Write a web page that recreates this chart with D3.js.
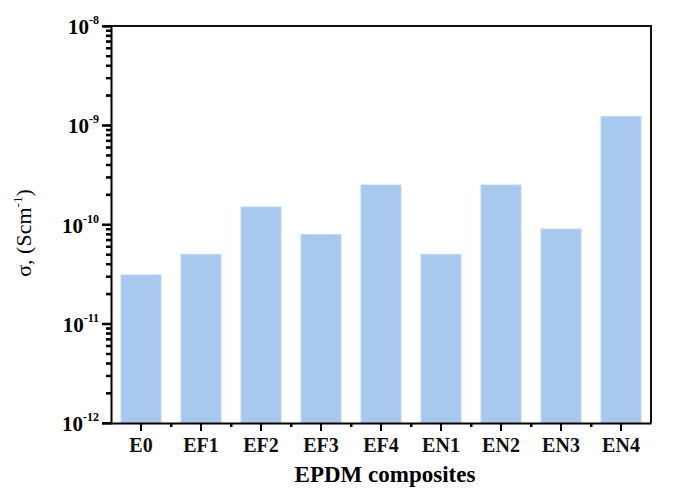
<!DOCTYPE html>
<html>
<head>
<meta charset="utf-8">
<script src="https://cdn.jsdelivr.net/npm/d3@7"></script>
<style>
  body { margin: 0; background: #fff; }
  svg { display: block; font-family: 'Liberation Serif', 'Times New Roman', serif; }
</style>
</head>
<body>
<div id="chart"></div>
<script>
const width = 673;
const height = 494;
const margin = { top: 26, right: 22, bottom: 71, left: 111 };

// data
const categories = ['E0', 'EF1', 'EF2', 'EF3', 'EF4', 'EN1', 'EN2', 'EN3', 'EN4'];
const conductivity = [3.1e-11, 5.0e-11, 1.5e-10, 7.9e-11, 2.5e-10, 5.0e-11, 2.5e-10, 9.0e-11, 1.22e-9];
const yExponents = [-12, -11, -10, -9, -8];

const svg = d3
  .select('#chart')
  .append('svg')
  .attr('width', width)
  .attr('height', height);

const x = d3
  .scaleBand()
  .domain(categories)
  .range([margin.left, width - margin.right])
  .paddingInner(1 / 3)
  .paddingOuter(1 / 6);

const y = d3
  .scaleLog()
  .domain([1e-12, 1e-8])
  .range([height - margin.bottom, margin.top]);

// bars
svg
  .selectAll('.bar')
  .data(categories)
  .enter()
  .append('rect')
  .classed('bar', true)
  .attr('x', (d) => x(d))
  .attr('y', (d, i) => y(conductivity[i]))
  .attr('width', x.bandwidth())
  .attr('height', (d, i) => y(1e-12) - y(conductivity[i]))
  .attr('fill', '#a7c9ee')
  .attr('stroke', '#b9d5f3')
  .attr('stroke-width', 1);

// frame (top + right)
svg
  .append('path')
  .attr(
    'd',
    `M${margin.left},${margin.top}H${width - margin.right}V${height - margin.bottom}`,
  )
  .attr('fill', 'none')
  .attr('stroke', '#111')
  .attr('stroke-width', 2);

// y axis - minor ticks at 2..9 of each decade
const majors = yExponents.map((e) => Math.pow(10, e));
const minors = [];
yExponents.slice(0, -1).forEach((e) => {
  for (let k = 2; k <= 9; k++) minors.push(k * Math.pow(10, e));
});

const yMinor = svg
  .append('g')
  .attr('transform', `translate(${margin.left},0)`)
  .call(d3.axisLeft(y).tickValues(minors).tickSize(5).tickFormat(''));
yMinor.select('.domain').remove();

const yAxis = svg
  .append('g')
  .attr('transform', `translate(${margin.left},0)`)
  .call(d3.axisLeft(y).tickValues(majors).tickSize(9).tickFormat(''));

// x axis, minor ticks between categories
const xEdges = d3.scaleLinear().domain([0, 9]).range(x.range());
const xMinor = svg
  .append('g')
  .attr('transform', `translate(0,${height - margin.bottom})`)
  .call(
    d3.axisBottom(xEdges).tickValues(d3.range(1, 9)).tickSize(4).tickFormat(''),
  );
xMinor.select('.domain').remove();

const xAxis = svg
  .append('g')
  .attr('transform', `translate(0,${height - margin.bottom})`)
  .call(d3.axisBottom(x).tickSize(8).tickSizeOuter(0).tickPadding(7));

svg.selectAll('.domain').attr('stroke-width', 2).attr('stroke', '#000');
svg.selectAll('.tick line').attr('stroke', '#000').attr('stroke-width', 2);

xAxis
  .selectAll('text')
  .style('font-family', "'Liberation Serif', 'Times New Roman', serif")
  .style('font-size', '20px')
  .style('font-weight', 'bold')
  .attr('fill', '#111');

// tick labels 10^n
const yLabels = svg
  .selectAll('.ylab')
  .data(yExponents)
  .enter()
  .append('text')
  .classed('ylab', true)
  .attr('x', margin.left - 12)
  .attr('y', (d) => y(Math.pow(10, d)) + 8)
  .attr('text-anchor', 'end')
  .style('font-size', '21px')
  .style('font-weight', 'bold');
yLabels.append('tspan').text('10');
yLabels
  .append('tspan')
  .attr('dy', -10)
  .style('font-size', '12px')
  .text((d) => '-' + Math.abs(d));

// axis titles
svg
  .append('text')
  .attr('x', (margin.left + width - margin.right) / 2 + 4)
  .attr('y', 482)
  .attr('text-anchor', 'middle')
  .style('font-size', '23px')
  .style('font-weight', 'bold')
  .text('EPDM composites');

const yTitle = svg
  .append('text')
  .attr('transform', 'translate(31,233) rotate(-90)')
  .attr('text-anchor', 'middle')
  .style('font-size', '22px');
yTitle.append('tspan').text('\u03C3, (Scm');
yTitle.append('tspan').attr('dy', -9).style('font-size', '13px').text('-1');
yTitle.append('tspan').attr('dy', 9).text(')');

// tick marks again as one path on top (the axis ticks did not show up in the render)
const x0 = margin.left;
const yb = height - margin.bottom;
let ticks = '';
majors.forEach((v) => (ticks += `M${x0 - 9},${y(v)}H${x0}`));
minors.forEach((v) => (ticks += `M${x0 - 5},${y(v)}H${x0}`));
categories.forEach((c) => {
  const cx = x(c) + x.bandwidth() / 2;
  ticks += `M${cx},${yb}V${yb + 8}`;
});
d3.range(1, 9).forEach((k) => (ticks += `M${xEdges(k)},${yb}V${yb + 4}`));
svg
  .append('path')
  .attr('d', ticks)
  .attr('fill', 'none')
  .attr('stroke', '#000')
  .attr('stroke-width', 2);
</script>
</body>
</html>
